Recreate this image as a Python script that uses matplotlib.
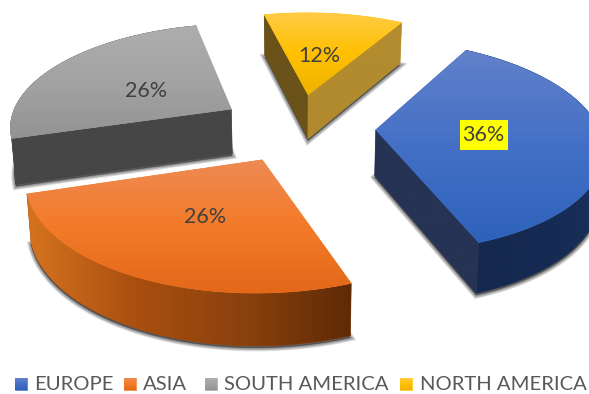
import numpy as np
import matplotlib
matplotlib.use('Agg')
import matplotlib.pyplot as plt
from matplotlib.colors import LinearSegmentedColormap
from matplotlib.patches import Polygon, Rectangle

# Chart data
regions = ['EUROPE', 'ASIA', 'SOUTH AMERICA', 'NORTH AMERICA']
shares = [36, 26, 26, 12]

# Perspective camera for the pie's top plane (pixel canvas units)
SCALE_X, DEPTH, CENTER_X, CENTER_Y, HORIZON_Y = 222.6, 6.78, 297.8, 126.8, -569.3
FIRST_ANGLE = 30.0
EXPLODE = [0.350, 0.343, 0.354, 0.331]
THICKNESS = 45.5
BOTTOM_SHRINK = 0.985

# Face colours per region
top_stops = [
    ['#6281CA', '#4370C6', '#2E62BA'],
    ['#EE8A55', '#F37B28', '#E3681A'],
    ['#AEAEAE', '#A3A3A3', '#939393'],
    ['#FFCB45', '#FFC000', '#EEB300'],
]
cut_start = [None, None, '#464646', '#6A5219']
cut_end = [('#263354', '#263354'), None, None, ('#B38D30', '#B08A2C')]
outer_stops = [
    ['#15284F', '#152A52', '#1A2F59'],
    ['#D5731F', '#A94F10', '#8B410D', '#5E2A07'],
    ['#464646', '#464646'],
    None,
]
label_reach = [0.47, 0.51, 0.48, 0.46]
label_nudge = [(2, 1), (2, 2), (0, 5), (-2, 1)]
label_box = [(48, 30, '#FFFF00'), None, None, None]
legend_swatch_x = [15, 124, 205, 400]
legend_text_x = [34, 143, 224, 420]


def project(u, v, bottom=False):
    s = 1.0 / (1.0 + np.asarray(v) / DEPTH)
    x = CENTER_X + SCALE_X * np.asarray(u) * s
    y = HORIZON_Y + (CENTER_Y - HORIZON_Y) * s
    if bottom:
        x = CENTER_X + (x - CENTER_X) * BOTTOM_SHRINK
        y = y + THICKNESS * s ** 0.7
    return np.column_stack([np.atleast_1d(x), np.atleast_1d(y)])


def gradient(ax, xy, stops, horizontal=False, zorder=2):
    xy = np.asarray(xy)
    cmap = LinearSegmentedColormap.from_list('face', stops)
    mean = cmap(0.5)
    ax.add_patch(Polygon(xy, closed=True, facecolor=mean, edgecolor=mean,
                         lw=0.4, zorder=zorder))
    x0, x1, y0, y1 = xy[:, 0].min(), xy[:, 0].max(), xy[:, 1].min(), xy[:, 1].max()
    ramp = np.linspace(0, 1, 256)
    ramp = ramp[None, :] if horizontal else ramp[:, None]
    im = ax.imshow(ramp, cmap=cmap, extent=(x0, x1, y1, y0), origin='upper',
                   aspect='auto', interpolation='bilinear', zorder=zorder)
    clip = Polygon(xy, closed=True, transform=ax.transData)
    im.set_clip_path(clip)


def wall(a, b):
    return np.vstack([a, b[::-1]])


fig = plt.figure(figsize=(5.89, 3.94), dpi=100)
ax = fig.add_axes([0, 0, 1, 1])
ax.set_xlim(0, 589)
ax.set_ylim(394, 0)
ax.set_autoscale_on(False)
ax.axis('off')

fractions = np.asarray(shares, float) / sum(shares)
bounds = FIRST_ANGLE + 360 * np.r_[0, np.cumsum(fractions)]

for i in [3, 2, 0, 1]:
    a0, a1 = bounds[i], bounds[i + 1]
    mid = np.radians((a0 + a1) / 2)
    ou, ov = EXPLODE[i] * np.sin(mid), EXPLODE[i] * np.cos(mid)
    t = np.radians(np.linspace(a0, a1, 120))
    arc_u, arc_v = ou + np.sin(t), ov + np.cos(t)

    arc_top, arc_bot = project(arc_u, arc_v), project(arc_u, arc_v, True)
    tip_top, tip_bot = project(ou, ov), project(ou, ov, True)
    top_face = np.vstack([tip_top, arc_top])
    bottom_face = np.vstack([tip_bot, arc_bot])

    # Soft contact shadow under the slice
    for lw in [5, 4, 3, 2, 1]:
        ax.add_patch(Polygon(bottom_face + [0, 2], closed=True, facecolor='black',
                             edgecolor='black', lw=lw, alpha=0.11, zorder=1))

    if outer_stops[i] is not None:
        gradient(ax, wall(arc_top, arc_bot), outer_stops[i], horizontal=True)
    if cut_start[i] is not None:
        gradient(ax, wall(np.vstack([tip_top, arc_top[:1]]),
                          np.vstack([tip_bot, arc_bot[:1]])),
                 [cut_start[i], cut_start[i]])
    if cut_end[i] is not None:
        gradient(ax, wall(np.vstack([tip_top, arc_top[-1:]]),
                          np.vstack([tip_bot, arc_bot[-1:]])),
                 list(cut_end[i]))
    gradient(ax, top_face, top_stops[i], zorder=3)

    lx, ly = project(ou + label_reach[i] * np.sin(mid), ov + label_reach[i] * np.cos(mid))[0]
    lx += label_nudge[i][0]
    ly += label_nudge[i][1]
    if label_box[i] is not None:
        w, h, colour = label_box[i]
        ax.add_patch(Rectangle((lx - w / 2, ly - h / 2), w, h, facecolor=colour,
                               edgecolor='none', zorder=4))
    ax.text(lx, ly, f'{shares[i]}%', ha='center', va='center', family='Lato',
            fontsize=15.5, color='#404040', zorder=5)

# Legend row
for i, name in enumerate(regions):
    sx = legend_swatch_x[i]
    gradient(ax, [(sx, 378), (sx + 12, 378), (sx + 12, 390), (sx, 390)], top_stops[i], zorder=3)
    ax.text(legend_text_x[i], 384.5, name, ha='left', va='center', family='Lato',
            fontsize=14.6, color='#595959', zorder=5)

fig.savefig('out.png', dpi=100)
